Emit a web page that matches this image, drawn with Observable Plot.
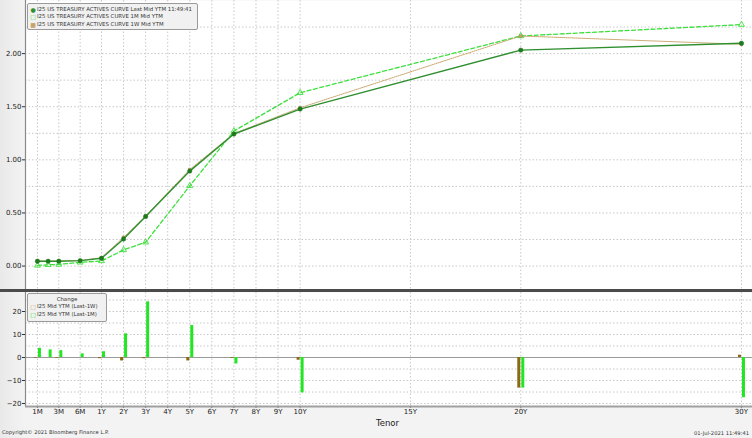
<!DOCTYPE html>
<html>
<head>
<meta charset="utf-8">
<script src="https://cdn.jsdelivr.net/npm/d3@7"></script>
<script src="https://cdn.jsdelivr.net/npm/@observablehq/plot@0.6"></script>
<style>
  body { margin: 0; background: #f0f0f0; }
  #wrap { position: relative; width: 752px; height: 438px; overflow: hidden;
          background: linear-gradient(to right, #e9e9e9 0px, #f3f3f3 25px, #f3f3f3 100%);
          font-family: "DejaVu Sans", sans-serif; }
  #wrap svg { position: absolute; left: 0; overflow: visible; }
  .legend { position: absolute; background: #f1f1f1; border: 1px solid #9a9a9a; border-radius: 2px;
            font-size: 5.4px; color: #333; line-height: 7.6px; box-sizing: border-box; }
  .legend .row { white-space: nowrap; display: flex; align-items: center; }
  .mk { display: inline-block; width: 6px; margin-right: 1px; text-align: center; }
  .abs { position: absolute; white-space: nowrap; }
</style>
</head>
<body>
<div id="wrap"></div>
<script>
// ---- data ----
const tenorLabels = ["1M","2M","3M","6M","1Y","2Y","3Y","5Y","7Y","10Y","20Y","30Y"];
const tenorValue  = [-2, -1.5, -1, 0, 1, 2, 3, 5, 7, 10, 20, 30];
const lastYield   = [0.046,0.045,0.046,0.051,0.073,0.255,0.466,0.894,1.243,1.478,2.033,2.098];
const weekYield   = [0.049,0.045,0.049,0.051,0.078,0.270,0.471,0.909,1.247,1.490,2.166,2.088];
const monthYield  = [0.006,0.012,0.016,0.035,0.048,0.152,0.224,0.755,1.271,1.632,2.166,2.273];
const chg1W       = [-0.3,0,-0.3,0,-0.5,-1.5,-0.5,-1.5,-0.4,-1.2,-13.3,1.0];
const chg1M       = [4.0,3.3,3.0,1.6,2.5,10.3,24.2,13.9,-2.8,-15.4,-13.3,-17.5];
const xTickLabels = ["1M","3M","6M","1Y","2Y","3Y","4Y","5Y","6Y","7Y","8Y","9Y","10Y","15Y","20Y","30Y"];
const xTickValues = [-2,-1,0,1,2,3,4,5,6,7,8,9,10,15,20,30];
const yTopTicks   = [0, 0.5, 1, 1.5, 2];
const yTopGrid    = [0,0.25,0.5,0.75,1,1.25,1.5,1.75,2,2.25];
const yBotTicks   = [-20,-10,0,10,20];
const yBotGrid    = [-20,-15,-10,-5,5,10,15,20,25];

const rows = tenorLabels.map((t, i) => ({
  tenor: t, x: tenorValue[i], last: lastYield[i], week: weekYield[i], month: monthYield[i],
  c1w: chg1W[i], c1m: chg1M[i]
}));
const tickLabel = new Map(xTickValues.map((v, i) => [v, xTickLabels[i]]));

const C_LAST = "#2f8f2f", C_MONTH = "#3de03d", C_WEEK = "#c9a46a";
const C_BAR_W = "#8a6a14", C_BAR_M = "#22e622";
const GRID = "#c8c8c8";

const xScale = { type: "linear", domain: [-2.56, 1, 30.5], range: [25, 101, 752] };
const wrap = document.getElementById("wrap");

// ---- top panel ----
const topChart = Plot.plot({
  width: 752, height: 290,
  marginLeft: 25, marginRight: 0, marginTop: 0, marginBottom: 0,
  style: { fontFamily: "DejaVu Sans, sans-serif", fontSize: "7px", color: "#222", background: "transparent" },
  x: { ...xScale, axis: null },
  y: { domain: [-0.23, 2.5], axis: null },
  marks: [
    Plot.frame({ fill: "white", stroke: null }),
    Plot.ruleY(yTopGrid, { stroke: GRID, strokeDasharray: "1.5,2", strokeWidth: 1 }),
    Plot.ruleX(xTickValues, { stroke: GRID, strokeDasharray: "1.5,2", strokeWidth: 1 }),
    Plot.ruleX([xScale.domain[0]], { stroke: "#8a8a8a", strokeWidth: 1.2 }),
    Plot.axisY({ ticks: yTopTicks, tickFormat: d3.format(".2f"), tickSize: 3, tickPadding: 1,
                 stroke: "#333", fontSize: 7, label: null }),
    Plot.line(rows, { x: "x", y: "month", stroke: C_MONTH, strokeWidth: 1.3, strokeDasharray: "4,2.5" }),
    Plot.dot(rows, { x: "x", y: "month", symbol: "triangle", r: 2.2, stroke: C_MONTH, fill: "none", strokeWidth: 0.9 }),
    Plot.line(rows, { x: "x", y: "week", stroke: C_WEEK, strokeWidth: 1, strokeDasharray: "1,1" }),
    Plot.dot(rows, { x: "x", y: "week", symbol: "square", r: 1.5, fill: C_WEEK, stroke: "#9a8040", strokeWidth: 0.5 }),
    Plot.line(rows, { x: "x", y: "last", stroke: C_LAST, strokeWidth: 1.4 }),
    Plot.dot(rows, { x: "x", y: "last", r: 2.2, fill: "#1f7a1f", stroke: "#1f7a1f", strokeWidth: 0.5 })
  ]
});
topChart.style.top = "0px";
wrap.appendChild(topChart);

// separator
const sep = document.createElement("div");
sep.style.cssText = "position:absolute;left:0;top:289px;width:752px;height:3px;background:#4b4b4b;";
wrap.appendChild(sep);

// ---- bottom panel ----
const bottomChart = Plot.plot({
  width: 752, height: 130,
  marginLeft: 25, marginRight: 0, marginTop: 2, marginBottom: 14,
  style: { fontFamily: "DejaVu Sans, sans-serif", fontSize: "7px", color: "#222", background: "transparent" },
  x: { ...xScale, label: null },
  y: { domain: [-21.3, 28.26], axis: null, label: null },
  marks: [
    Plot.frame({ fill: "white", stroke: null }),
    Plot.ruleY(yBotGrid, { stroke: GRID, strokeDasharray: "1.5,2", strokeWidth: 1 }),
    Plot.ruleX(xTickValues, { stroke: GRID, strokeDasharray: "1.5,2", strokeWidth: 1 }),
    Plot.ruleY([0], { stroke: "#9a9a9a", strokeWidth: 1 }),
    Plot.ruleX([xScale.domain[0]], { stroke: "#8a8a8a", strokeWidth: 1.2 }),
    Plot.ruleY([-21.3], { stroke: "#a0a0a0", strokeWidth: 2 }),
    Plot.axisY({ ticks: yBotTicks, tickSize: 3, tickPadding: 1, stroke: "#333", fontSize: 7, label: null }),
    Plot.axisX({ ticks: xTickValues, tickFormat: d => tickLabel.get(d), tickSize: 2, tickPadding: 1,
                 stroke: "#888", fontSize: 7, label: null }),
    Plot.ruleX(rows, { x: "x", y1: 0, y2: "c1w", stroke: C_BAR_W, strokeWidth: 3, dx: -2 }),
    Plot.ruleX(rows, { x: "x", y1: 0, y2: "c1m", stroke: C_BAR_M, strokeWidth: 3, dx: 2 })
  ]
});
bottomChart.style.top = "290px";
wrap.appendChild(bottomChart);

// ---- legends ----
const lg1 = document.createElement("div");
lg1.className = "legend";
lg1.style.cssText += "left:27px;top:3px;width:171px;height:27px;padding:1.5px 0 0 2px;";
lg1.innerHTML =
  `<div class="row"><span class="mk" style="color:${C_LAST};font-size:6px">●</span>I25 US TREASURY ACTIVES CURVE Last Mid YTM 11:49:41</div>` +
  `<div class="row"><span class="mk" style="color:${C_MONTH};font-size:6px">□</span>I25 US TREASURY ACTIVES CURVE 1M Mid YTM</div>` +
  `<div class="row"><span class="mk" style="color:${C_WEEK};font-size:6px">■</span>I25 US TREASURY ACTIVES CURVE 1W Mid YTM</div>`;
wrap.appendChild(lg1);

const lg2 = document.createElement("div");
lg2.className = "legend";
lg2.style.cssText += "left:27px;top:293px;width:80px;height:29px;padding:1.5px 0 0 2px;";
lg2.innerHTML =
  `<div style="text-align:center;padding-right:2px">Change</div>` +
  `<div class="row"><span class="mk" style="color:${C_WEEK};font-size:6px">□</span>I25 Mid YTM (Last-1W)</div>` +
  `<div class="row"><span class="mk" style="color:${C_BAR_M};font-size:6px">□</span>I25 Mid YTM (Last-1M)</div>`;
wrap.appendChild(lg2);

// ---- texts ----
const tenorText = document.createElement("div");
tenorText.className = "abs";
tenorText.style.cssText += "left:376px;top:418px;font-size:8.5px;color:#222;";
tenorText.textContent = "Tenor";
wrap.appendChild(tenorText);

const copyText = document.createElement("div");
copyText.className = "abs";
copyText.style.cssText += "left:2px;top:429px;font-size:5.2px;color:#333;";
copyText.textContent = "Copyright© 2021 Bloomberg Finance L.P.";
wrap.appendChild(copyText);

const dateText = document.createElement("div");
dateText.className = "abs";
dateText.style.cssText += "right:3px;top:430px;font-size:5.2px;color:#333;";
dateText.textContent = "01-Jul-2021 11:49:41";
wrap.appendChild(dateText);
</script>
</body>
</html>
